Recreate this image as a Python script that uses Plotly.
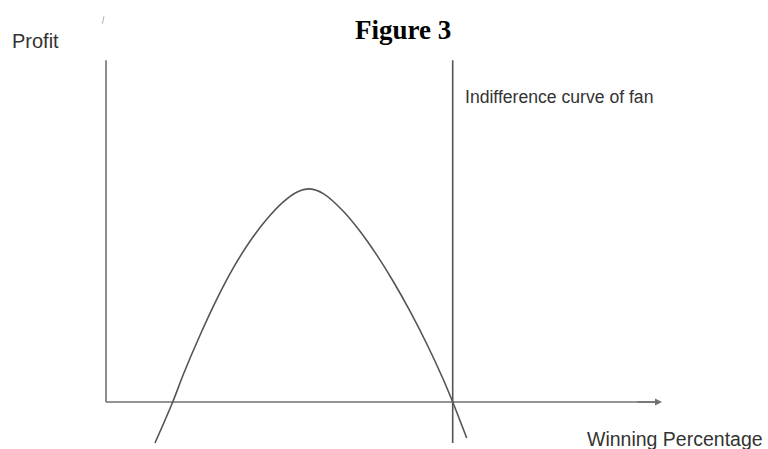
import plotly.graph_objects as go

# curve (origin = where the axes meet)
curve_x = [49, 66.7, 77.3, 94, 110.7, 127.3, 144, 160.7, 177.3, 190.7, 204,
           217.3, 237.3, 254, 270.7, 287.3, 304, 320.7, 337.3, 346.7, 360.7]
curve_y = [-41, 0, 27.6, 66.8, 102.7, 134.2, 160.9, 182.9, 200.3, 210, 213.3,
           208.5, 190.9, 170.9, 147.2, 120.6, 90.9, 58.3, 22.6, 0, -36]

fan_x = [346.7, 346.7]
fan_y = [-41, 342]

yaxis_x = [0, 0]
yaxis_y = [0, 342]

xaxis_x = [0, 552]
xaxis_y = [0, 0]

line_col = '#555555'
axis_col = '#707070'

fig = go.Figure()
fig.add_trace(go.Scatter(x=xaxis_x, y=xaxis_y, mode='lines',
                         line=dict(color=axis_col, width=1.6), hoverinfo='skip'))
fig.add_trace(go.Scatter(x=yaxis_x, y=yaxis_y, mode='lines',
                         line=dict(color=axis_col, width=1.6), hoverinfo='skip'))
fig.add_trace(go.Scatter(x=fan_x, y=fan_y, mode='lines',
                         line=dict(color=line_col, width=1.6), hoverinfo='skip'))
fig.add_trace(go.Scatter(x=curve_x, y=curve_y, mode='lines', line_shape='spline',
                         line=dict(color=line_col, width=1.6, smoothing=1), hoverinfo='skip'))

txt_font = dict(family='Liberation Sans', color='#333333')

annotations = [
    # arrow heads
    dict(x=556, y=0, ax=530, ay=0, xref='x', yref='y', axref='x', ayref='y',
         showarrow=True, arrowhead=2, arrowsize=1, arrowwidth=1.4, arrowcolor=axis_col, text=''),
    dict(x=-2, y=386, ax=-4, ay=377, xref='x', yref='y', axref='x', ayref='y',
         showarrow=True, arrowhead=0, arrowwidth=1, arrowcolor='#b0b0b0', text=''),
    dict(x=297, y=372, xref='x', yref='y', text='<b>Figure 3</b>', showarrow=False,
         font=dict(family='Liberation Serif', size=27, color='black')),
    dict(x=-96, y=361, xref='x', yref='y', text='Profit', showarrow=False, xanchor='left',
         font=dict(size=20, **txt_font)),
    dict(x=357, y=305, xref='x', yref='y', text='Indifference curve of fan', showarrow=False,
         xanchor='left', font=dict(size=17.6, **txt_font)),
    dict(x=479, y=-36.5, xref='x', yref='y', text='Winning Percentage', showarrow=False,
         xanchor='left', font=dict(size=19.5, **txt_font)),
]

fig.update_layout(
    width=768, height=449,
    margin=dict(l=0, r=0, t=0, b=0),
    paper_bgcolor='white', plot_bgcolor='white',
    showlegend=False,
    xaxis=dict(range=[-106, 662], visible=False, fixedrange=True),
    yaxis=dict(range=[-47, 402.3], visible=False, fixedrange=True),
    annotations=annotations,
)

fig.write_html('out.html', config={'displayModeBar': False},
               post_script="document.body.style.margin='0';")
